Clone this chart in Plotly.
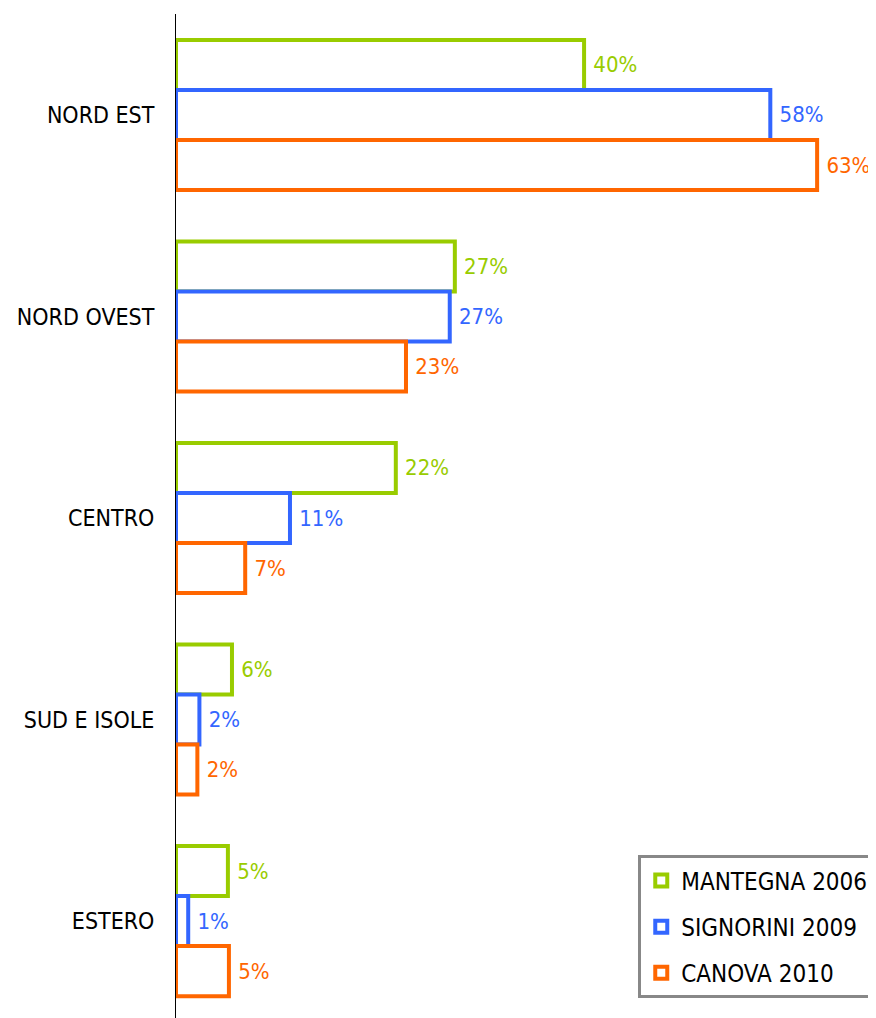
import plotly.graph_objects as go

categories = ["NORD EST", "NORD OVEST", "CENTRO", "SUD E ISOLE", "ESTERO"]
series_names = ["MANTEGNA 2006", "SIGNORINI 2009", "CANOVA 2010"]
mantegna = [40.1, 27.4, 21.6, 5.5, 5.1]
signorini = [58.4, 26.9, 11.2, 2.3, 1.2]
canova = [63.0, 22.6, 6.8, 2.1, 5.2]
labels_mantegna = ["40%", "27%", "22%", "6%", "5%"]
labels_signorini = ["58%", "27%", "11%", "2%", "1%"]
labels_canova = ["63%", "23%", "7%", "2%", "5%"]
colors = ["#99CC00", "#3366FF", "#FF6600"]

FONT = "DejaVu Sans Condensed, DejaVu Sans"

fig = go.Figure()
for name, vals, labs, col in zip(series_names, [mantegna, signorini, canova],
                                 [labels_mantegna, labels_signorini, labels_canova], colors):
    fig.add_trace(go.Bar(
        y=categories, x=vals, name=name, orientation="h",
        text=labs, texttemplate="\u00a0%{text}", textposition="outside", cliponaxis=False,
        textfont=dict(color=col, size=22, family=FONT),
        marker=dict(color="white", line=dict(color=col, width=4)),
        legendgroup=name,
    ))

fig.update_layout(
    width=868, height=1010,
    margin=dict(l=168, r=8, t=6, b=0),
    paper_bgcolor="white", plot_bgcolor="white",
    barmode="group", bargap=0.255, bargroupgap=0,
    font=dict(family=FONT, size=22, color="black"),
    showlegend=True,
    legend=dict(
        x=0.668, y=0.162, xanchor="left", yanchor="top",
        bordercolor="#888888", borderwidth=3, bgcolor="white",
        font=dict(size=24, color="black", family=FONT),
        traceorder="grouped", tracegroupgap=12,
        itemwidth=30,
    ),
)
fig.update_xaxes(range=[0, 68], showgrid=False, zeroline=False, showticklabels=False,
                 showline=False, ticks="")
fig.update_yaxes(range=[4.481, -0.501], showgrid=False, showline=True, linecolor="black",
                 linewidth=1, ticks="outside", ticklen=16, tickcolor="rgba(0,0,0,0)",
                 tickfont=dict(size=23, color="black", family=FONT))

fig.write_html("out.html")
